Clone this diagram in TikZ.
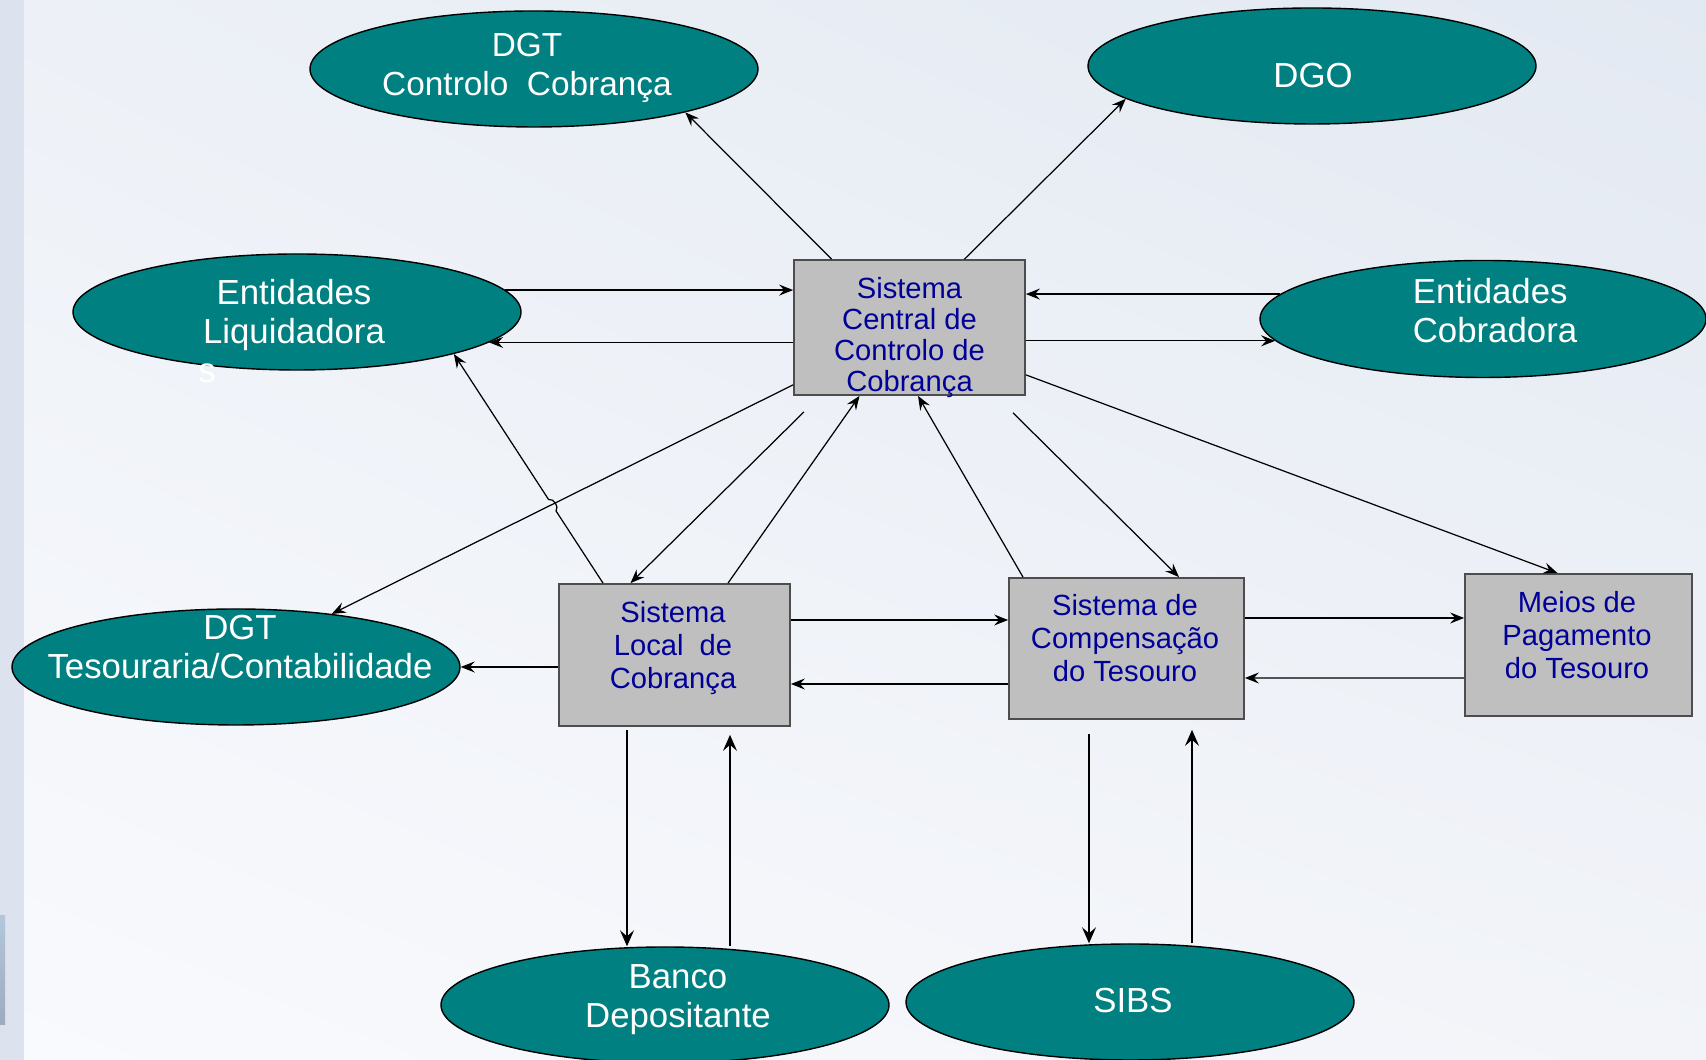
\documentclass[tikz,border=0pt]{standalone}
\usetikzlibrary{arrows.meta}
\usetikzlibrary{shapes.geometric}
\usetikzlibrary{shadings}
\usetikzlibrary{calc}
\usepackage{fontspec}
\setmainfont{Liberation Sans}
\definecolor{ovalfill}{HTML}{008080}
\definecolor{boxgray}{HTML}{BFBFBF}
\definecolor{boxedge}{HTML}{4D4D4D}
\definecolor{boxink}{HTML}{000099}
\definecolor{bgstrip}{HTML}{DCE2EE}
\definecolor{bgtr}{HTML}{E3E9F2}
\definecolor{bgtl}{HTML}{EDF1F7}
\definecolor{bgbl}{HTML}{F9FAFD}
\definecolor{bgbr}{HTML}{F2F4F9}
\definecolor{bartop}{HTML}{B4C6D9}
\definecolor{barbot}{HTML}{9CACC0}
\tikzset{oval/.style={ellipse, draw=black, line width=0.4pt, fill=ovalfill,
    minimum width=4.48cm, minimum height=1.16cm, inner sep=0pt},
  ovaltext/.style={text=white, align=center, inner sep=0pt,
    font=\fontsize{9.9}{11.1}\selectfont},
  sysbox/.style={rectangle, draw=boxedge, line width=0.5pt, fill=boxgray,
    minimum width=2.31cm, minimum height=1.42cm, inner sep=0pt},
  boxtext/.style={text=boxink, align=center, inner sep=0pt,
    font=\fontsize{8.3}{9.4}\selectfont},
  flow/.style={-{Stealth[length=0.14cm, width=0.11cm, inset=0.05cm]}, line width=0.35pt},
  vflow/.style={-{Stealth[length=0.16cm, width=0.14cm, inset=0.06cm]}, line width=0.35pt}}

\begin{document}
\begin{tikzpicture}
      \useasboundingbox (0, 0) rectangle (17.06, 10.60);
      \shade [upper right=bgtr, upper left=bgtl, lower left=bgbl, lower right=bgbr] (0, 0) rectangle (17.06, 10.60);
      \fill [bgstrip] (0, 0) rectangle (0.24, 10.60);
      \shade [top color=bartop, bottom color=barbot] (0, 0.35) rectangle (0.05, 1.44);

      \node [oval] (ctrl) at (5.34, 9.91) {};
      \node [oval] (dgo) at (13.12, 9.94) {};
      \node [oval] (liq) at (2.97, 7.48) {};
      \node [oval, minimum width=4.46cm, minimum height=1.17cm] (cob) at (14.83, 7.41) {};
      \node [oval] (tes) at (2.36, 3.93) {};
      \node [oval] (banco) at (6.65, 0.55) {};
      \node [oval] (sibs) at (11.30, 0.58) {};

      \node [ovaltext, font=\fontsize{9.5}{11.1}\selectfont] (ctrl-t) at ([shift={(-0.07, 0.01)}]ctrl.center) {DGT\\Controlo~~Cobrança};
      \node [ovaltext] (dgo-t) at ([shift={(0.01, -0.10)}]dgo.center) {DGO};
      \node [ovaltext] (liq-t) at ([shift={(-0.03, -0.03)}]liq.center) {Entidades\\Liquidadora};
      \node [ovaltext] (liq-s) at ([shift={(-0.90, -0.61)}]liq.center) {s};
      \node [ovaltext, align=left] (cob-t) at ([shift={(0.12, 0.08)}]cob.center) {Entidades\\Cobradora};
      \node [ovaltext] (tes-t) at ([shift={(0.04, 0.20)}]tes.center) {DGT\\Tesouraria/Contabilidade};
      \node [ovaltext] (banco-t) at ([shift={(0.13, 0.05)}]banco.center) {Banco\\Depositante};
      \node [ovaltext] (sibs-t) at ([shift={(0.03, 0.01)}]sibs.center) {SIBS};

      \node [sysbox, minimum height=1.35cm] (central) at (9.095, 7.325) {};
      \node [sysbox] (local) at (6.745, 4.05) {};
      \node [sysbox, minimum width=2.35cm, minimum height=1.41cm] (comp) at (11.265, 4.115) {};
      \node [sysbox, minimum width=2.27cm] (meios) at (15.785, 4.15) {};

      \node [boxtext, font=\fontsize{8.3}{8.9}\selectfont] (central-t) at ([yshift=-0.10cm]central.center) {Sistema\\Central de\\Controlo de\\Cobrança};
      \node [boxtext] (local-t) at ([shift={(-0.015, 0.07)}]local.center) {Sistema\\Local~~de\\Cobrança};
      \node [boxtext] (comp-t) at ([shift={(-0.015, 0.10)}]comp.center) {Sistema de\\Compensação\\do Tesouro};
      \node [boxtext] (meios-t) at ([shift={(-0.015, 0.10)}]meios.center) {Meios de\\Pagamento\\do Tesouro};

      \draw [flow] ([xshift=-0.78cm]central.north) -- (ctrl.-16);
      \draw [flow] ([xshift=0.55cm]central.north) -- (dgo.190);
      \draw [flow] (liq.6) -- (liq.6 -| central.west);
      \draw [flow] (liq.-9 -| central.west) -- (liq.-9);
      \draw [flow] (cob.173) -- (cob.173 -| central.east);
      \draw [flow] (cob.186 -| central.east) -- (cob.186);
      \draw [flow] ([yshift=0.21cm]central.south east) -- ([xshift=-0.21cm]meios.north);
      \draw [flow] ([yshift=0.11cm]central.south west) -- (tes.29);
      \draw [flow] ([shift={(-1.055cm, -0.16cm)}]central.south) -- ([xshift=-0.44cm]local.north);
      \draw [flow] ([xshift=0.535cm]local.north) -- ([xshift=-0.5cm]central.south);
      \draw [flow] ([xshift=-1.035cm]comp.north) -- ([xshift=0.085cm]central.south);
      \draw [flow] ([shift={(1.035cm, -0.17cm)}]central.south) -- ([xshift=0.525cm]comp.north);

      \coordinate (hop) at ([xshift=-0.715cm]local.north);
      \draw [flow] (hop) -- ($(hop)!0.315!(liq.-15)$) to [bend right=70] ($(hop)!0.365!(liq.-15)$) -- (liq.-15);

      \draw [flow] (local.west |- tes.east) -- (tes.east);
      \draw [flow] ([yshift=0.35cm]local.east) -- ([yshift=0.285cm]comp.west);
      \draw [flow] ([yshift=-0.355cm]comp.west) -- ([yshift=-0.29cm]local.east);
      \draw [flow] ([yshift=0.305cm]comp.east) -- ([yshift=0.27cm]meios.west);
      \draw [flow] ([yshift=-0.33cm]meios.west) -- ([yshift=-0.295cm]comp.east);

      \draw [vflow] ([shift={(-0.475cm, -0.03cm)}]local.south) -- ([xshift=-0.38cm]banco.north);
      \draw [vflow] ([xshift=0.65cm]banco.north) -- ([shift={(0.555cm, -0.08cm)}]local.south);
      \draw [vflow] ([shift={(-0.375cm, -0.14cm)}]comp.south) -- ([xshift=-0.41cm]sibs.north);
      \draw [vflow] ([xshift=0.62cm]sibs.north) -- ([shift={(0.655cm, -0.10cm)}]comp.south);
\end{tikzpicture}
\end{document}
